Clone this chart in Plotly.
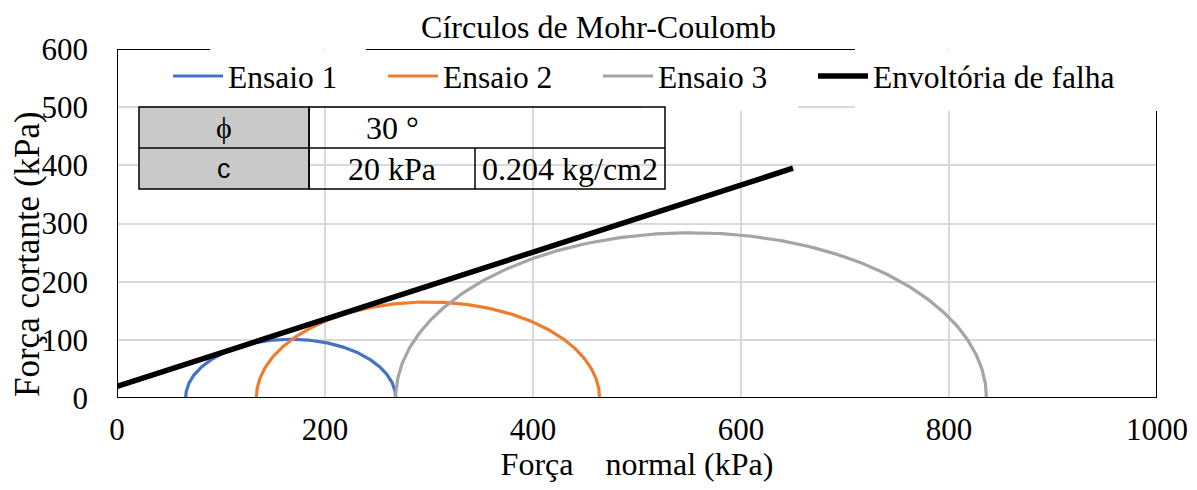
import numpy as np
import plotly.graph_objects as go

# ---------------- data ----------------
test_names = ["Ensaio 1", "Ensaio 2", "Ensaio 3"]
sigma3 = [66, 134, 268]      # kPa (minor principal stress)
sigma1 = [268, 464, 836]     # kPa (major principal stress)
test_colors = ["#4472C4", "#ED7D31", "#A5A5A5"]

env_name = "Envoltória de falha"
env_sigma = [0, 650]
env_tau = [20, 395]

phi_label = "30 °"
c_label_kpa = "20 kPa"
c_label_kg = "0.204 kg/cm2"

x_ticks = [0, 200, 400, 600, 800, 1000]
y_ticks = [0, 100, 200, 300, 400, 500, 600]

# ---------------- layout helpers ----------------
# page body has an 8px margin, so figure pixel = screen pixel - 8
OFF = 8
W, H = 1197 - 2 * OFF, 490 - 2 * OFF
L, R, T, B = 117 - OFF, 1157 - OFF, 49 - OFF, 398 - OFF
def X(px):   # screen px -> data x
    return (px - OFF - L) / (R - L) * 1000
def Y(py):   # screen py -> data y
    return (B - (py - OFF)) / (B - T) * 600
def PX(px):  # screen px -> paper x
    return (px - OFF - L) / (R - L)
def PY(py):  # screen py -> paper y
    return (B - (py - OFF)) / (B - T)

SERIF = "Liberation Serif"
FS = 32

fig = go.Figure()

theta = np.linspace(0, np.pi, 241)
for name, s3, s1, col in zip(test_names, sigma3, sigma1, test_colors):
    cx = (s1 + s3) / 2
    r = (s1 - s3) / 2
    fig.add_trace(go.Scatter(
        x=cx + r * np.cos(theta), y=r * np.sin(theta), mode="lines", name=name,
        line=dict(color=col, width=3.2), hoverinfo="skip"))

fig.add_trace(go.Scatter(x=env_sigma, y=env_tau, mode="lines", name=env_name,
                         line=dict(color="black", width=5.5), legendwidth=250))

shapes = []
# white masks in legend band (grid hidden there), between grid and traces
for x0, x1, ybot in [(118, 1160, 106), (642, 798, 111), (855, 1160, 111)]:
    shapes.append(dict(type="rect", xref="x", yref="y", layer="between",
                       x0=X(x0), x1=X(x1), y0=Y(ybot), y1=Y(50),
                       fillcolor="white", line=dict(width=0)))

frame = dict(color="black", width=2)
shapes += [
    dict(type="line", xref="x", yref="y", x0=0, x1=0, y0=0, y1=600, line=frame),
    dict(type="line", xref="x", yref="y", x0=0, x1=1000, y0=0, y1=0, line=frame),
    dict(type="line", xref="x", yref="y", x0=1000, x1=1000, y0=0, y1=Y(111), line=frame),
    dict(type="line", xref="x", yref="y", x0=0, x1=X(210), y0=600, y1=600, line=frame),
    dict(type="line", xref="x", yref="y", x0=X(366), x1=X(855), y0=600, y1=600, line=frame),
]

# parameter table
tx = [X(139), X(309), X(475), X(665)]
ty = [Y(107), Y(148), Y(189)]
tline = dict(color="black", width=1.5)
shapes.append(dict(type="rect", xref="x", yref="y", layer="above",
                   x0=tx[0], x1=tx[1], y0=ty[2], y1=ty[0],
                   fillcolor="#C9C9C9", line=tline))
shapes.append(dict(type="rect", xref="x", yref="y", layer="above",
                   x0=tx[1], x1=tx[3], y0=ty[2], y1=ty[0], line=tline))
shapes.append(dict(type="line", xref="x", yref="y", layer="above",
                   x0=tx[0], x1=tx[3], y0=ty[1], y1=ty[1], line=tline))
shapes.append(dict(type="line", xref="x", yref="y", layer="above",
                   x0=tx[2], x1=tx[2], y0=ty[2], y1=ty[1], line=tline))

ann = []
def cell(text, x0, x1, y0, y1, family=SERIF, size=FS):
    ann.append(dict(text=text, x=(x0 + x1) / 2, y=(y0 + y1) / 2, xref="x", yref="y",
                    showarrow=False, font=dict(family=family, size=size, color="black"),
                    xanchor="center", yanchor="middle"))
cell("ϕ", tx[0], tx[1], ty[1], ty[0], size=30)
cell("c", tx[0], tx[1], ty[2], ty[1], family="Liberation Sans", size=27)
cell(phi_label, tx[1], tx[2], ty[1], ty[0])
cell(c_label_kpa, tx[1], tx[2], ty[2], ty[1])
cell(c_label_kg, tx[2], tx[3], ty[2], ty[1])

# y-axis title
ann.append(dict(text="Força cortante (kPa)", x=PX(28), y=PY(254),
                xref="paper", yref="paper", textangle=-90, showarrow=False,
                font=dict(family=SERIF, size=35, color="black"),
                xanchor="center", yanchor="middle"))

fig.update_layout(
    width=W, height=H,
    margin=dict(l=L, r=W - R, t=T, b=H - B, autoexpand=False),
    paper_bgcolor="white", plot_bgcolor="white",
    font=dict(family=SERIF, size=FS, color="black"),
    title=dict(text="Círculos de Mohr-Coulomb", x=0.5, xref="container", xanchor="center",
               y=1 - (27 - OFF) / H, yanchor="middle", yref="container",
               font=dict(family=SERIF, size=FS, color="black")),
    showlegend=True,
    legend=dict(orientation="h", x=PX(168), xanchor="left",
                y=1.0, yanchor="top", bgcolor="rgba(0,0,0,0)",
                itemwidth=50, entrywidth=150, entrywidthmode="pixels",
                font=dict(family=SERIF, size=31.5, color="black")),
    xaxis=dict(range=[0, 1000], tickvals=x_ticks, showgrid=True, gridcolor="#D9D9D9",
               gridwidth=1.5, zeroline=False, showline=False, ticks="", automargin=False,
               ticklabelstandoff=10, tickfont=dict(family=SERIF, size=31),
               title=dict(text="Força\u00a0\u00a0\u00a0 normal (kPa)", standoff=11,
                          font=dict(family=SERIF, size=FS))),
    yaxis=dict(range=[0, 600], tickvals=y_ticks, showgrid=True, gridcolor="#D9D9D9",
               gridwidth=1.5, zeroline=False, showline=False, ticks="", automargin=False,
               ticklabelstandoff=28, tickfont=dict(family=SERIF, size=31)),
    shapes=shapes, annotations=ann,
)

fig.write_html("out.html")
